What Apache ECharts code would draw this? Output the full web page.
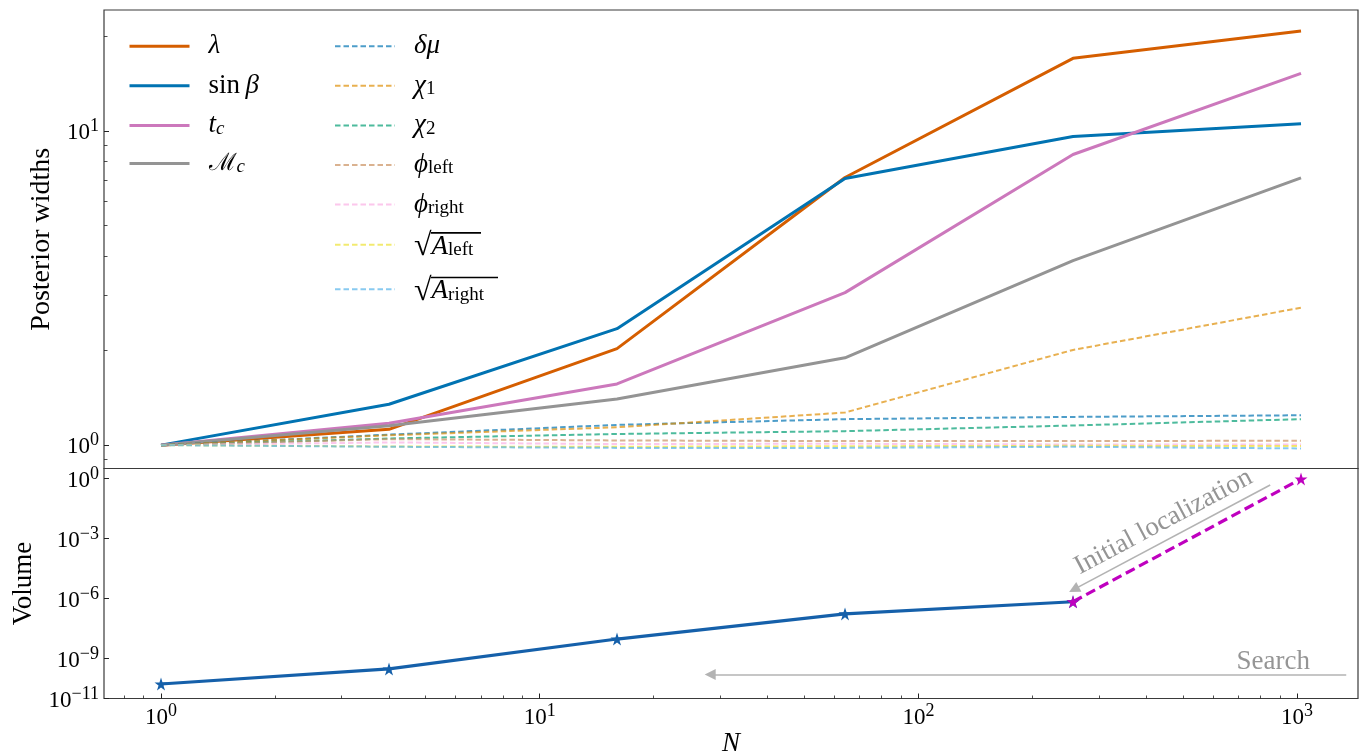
<!DOCTYPE html>
<html><head><meta charset="utf-8">
<script src="https://cdn.jsdelivr.net/npm/echarts@6.0.0/dist/echarts.min.js"></script>
<style>html,body{margin:0;padding:0;background:#fff}#c{width:1366px;height:751px}</style>
</head><body><div id="c"></div>
<script>
// ---------- data ----------
const N = [1, 4, 16, 64, 256, 1024];
const lambdaW = [1, 1.123, 2.03, 7.12, 17.06, 20.85];
const sinBetaW = [1, 1.35, 2.35, 7.07, 9.62, 10.56];
const tcW = [1, 1.174, 1.566, 3.06, 8.43, 15.28];
const McW = [1, 1.153, 1.403, 1.897, 3.87, 7.10];
const dmuW = [1, 1.08, 1.16, 1.21, 1.23, 1.245];
const chi1W = [1, 1.075, 1.14, 1.27, 2.01, 2.74];
const chi2W = [1, 1.05, 1.085, 1.108, 1.155, 1.21];
const phiLeftW = [1, 1.045, 1.035, 1.03, 1.03, 1.033];
const phiRightW = [1, 1.02, 1.008, 1.01, 1.005, 1.005];
const ALeftW = [1, 0.99, 0.988, 0.992, 0.995, 0.993];
const ARightW = [1, 0.988, 0.98, 0.98, 0.988, 0.976];

const searchN = [1, 4, 16, 64, 256];
const searchVol = [5.3e-11, 3.0e-10, 9.4e-9, 1.7e-7, 6.9e-7];
const locN = [256, 1024];
const locVol = [6.9e-7, 0.95];

const xMajorTicks = [1, 10, 100, 1000];
const xMinorTicks = [0.8, 0.9, 2, 3, 4, 5, 6, 7, 8, 9, 20, 30, 40, 50, 60, 70, 80, 90, 200, 300, 400, 500, 600, 700, 800, 900];
const topYMajorTicks = [1, 10];
const topYMinorTicks = [0.9, 2, 3, 4, 5, 6, 7, 8, 9, 20];
const volYTicks = [1e-11, 1e-9, 1e-6, 1e-3, 1];

// annotation anchors (data space)
const initArrow = [[849, 0.47], [257.5, 2.85e-6]];
const searchArrow = [[1348, 1.58e-10], [28.2, 1.58e-10]];
const initText = [443.6, 6.7e-3];
const searchText = [865, 6.7e-10];

// ---------- style ----------
const SERIF = 'Liberation Serif, DejaVu Serif, serif';
const X_MIN = 0.7071, X_MAX = 1448;
const TOP_MIN = 0.8425, TOP_MAX = 24.32;
const VOL_MIN = 1e-11, VOL_MAX = 3.1623;
const STAR = 'path://M50,0L61.2,34.5L97.6,34.5L68.2,55.9L79.4,90.5L50,69.1L20.6,90.5L31.8,55.9L2.4,34.5L38.8,34.5Z';

function powLabel(v) {
  const e = Math.round(Math.log10(v));
  const s = e < 0 ? '\u2212' + (-e) : '' + e;
  return '{b|10}{s|' + s + '}';
}
const tickRich = {
  b: {fontFamily: SERIF, fontSize: 23, lineHeight: 27, verticalAlign: 'bottom', color: '#000'},
  s: {fontFamily: SERIF, fontSize: 18, lineHeight: 16, verticalAlign: 'top', color: '#000'}
};
const TICKC = '#222';

function xy(xs, ys) { return xs.map((x, i) => [x, ys[i]]); }

const solid = [
  {name: 'lambda', data: lambdaW, color: '#d55e00'},
  {name: 'sinb', data: sinBetaW, color: '#0173b2'},
  {name: 'tc', data: tcW, color: '#cc78bc'},
  {name: 'Mc', data: McW, color: '#949494'}
];
const dashed = [
  {name: 'dmu', data: dmuW, color: 'rgba(1,115,178,0.7)'},
  {name: 'chi1', data: chi1W, color: 'rgba(222,143,5,0.7)'},
  {name: 'chi2', data: chi2W, color: 'rgba(2,158,115,0.7)'},
  {name: 'phiL', data: phiLeftW, color: 'rgba(202,145,97,0.7)'},
  {name: 'phiR', data: phiRightW, color: 'rgba(251,175,228,0.7)'},
  {name: 'AL', data: ALeftW, color: 'rgba(236,225,51,0.7)'},
  {name: 'AR', data: ARightW, color: 'rgba(86,180,233,0.7)'}
];

const legendText = {
  lambda: '{it|λ}',
  sinb: '{rm|sin\u2009}{it|β}',
  tc: '{it|t}{subi|c}',
  Mc: '{cal|ℳ}{subi|c}',
  dmu: '{it|δμ}',
  chi1: '{it|χ}{sub|1}',
  chi2: '{it|χ}{sub|2}',
  phiL: '{it|ϕ}{sub|left}',
  phiR: '{it|ϕ}{sub|right}',
  AL: '{gap|\u00a0}{barL|\u00a0}\n{sq|√}{it|A}{sub|left}',
  AR: '{gap|\u00a0}{barR|\u00a0}\n{sq|√}{it|A}{sub|right}'
};
const legRich = {
  it: {fontFamily: SERIF, fontStyle: 'italic', fontSize: 27, lineHeight: 26, color: '#000'},
  rm: {fontFamily: SERIF, fontSize: 27, lineHeight: 26, color: '#000'},
  cal: {fontFamily: 'DejaVu Serif', fontSize: 24, lineHeight: 26, color: '#000'},
  sub: {fontFamily: SERIF, fontSize: 19, lineHeight: 18, verticalAlign: 'bottom', color: '#000'},
  subi: {fontFamily: SERIF, fontStyle: 'italic', fontSize: 19, lineHeight: 18, verticalAlign: 'bottom', color: '#000'},
  sq: {fontFamily: SERIF, fontSize: 32, lineHeight: 26, color: '#000'},
  gap: {width: 17, height: 2, lineHeight: 4, fontSize: 2},
  barL: {width: 50, height: 1.6, lineHeight: 4, fontSize: 2, backgroundColor: '#000', verticalAlign: 'bottom'},
  barR: {width: 67, height: 1.6, lineHeight: 4, fontSize: 2, backgroundColor: '#000', verticalAlign: 'bottom'}
};
function legendCfg(names, left, lw) {
  return {
    data: names, orient: 'vertical', left: left, top: 32.7, padding: 0,
    itemWidth: 60, itemHeight: 14, itemGap: 12.6, selectedMode: false,
    itemStyle: {opacity: 0, borderWidth: 0},
    lineStyle: {width: lw},
    formatter: n => legendText[n],
    textStyle: {padding: [0, 0, 0, 14], fontFamily: SERIF, fontSize: 27, color: '#000', rich: legRich}
  };
}

const series = [];
solid.forEach(s => series.push({
  name: s.name, type: 'line', xAxisIndex: 0, yAxisIndex: 0,
  data: xy(N, s.data), symbol: 'none', silent: true,
  lineStyle: {color: s.color, width: 3}, itemStyle: {color: s.color},
  emphasis: {disabled: true}
}));
dashed.forEach(s => series.push({
  name: s.name, type: 'line', xAxisIndex: 0, yAxisIndex: 0,
  data: xy(N, s.data), symbol: 'none', silent: true,
  lineStyle: {color: s.color, width: 2, type: [5.5, 3]}, itemStyle: {color: s.color},
  emphasis: {disabled: true}
}));
series.push({
  name: 'search', type: 'line', xAxisIndex: 1, yAxisIndex: 2,
  data: xy(searchN, searchVol), symbol: STAR, symbolSize: 13, showAllSymbol: true, silent: true,
  lineStyle: {color: '#1560aa', width: 3.2}, itemStyle: {color: '#1560aa'},
  emphasis: {disabled: true}
});
series.push({
  name: 'loc', type: 'line', xAxisIndex: 1, yAxisIndex: 2,
  data: xy(locN, locVol), symbol: STAR, symbolSize: 13, showAllSymbol: true, silent: true,
  lineStyle: {color: '#bf00bf', width: 3.2, type: [10, 5]}, itemStyle: {color: '#bf00bf'},
  emphasis: {disabled: true}
});
const annLabel = {fontFamily: SERIF, fontSize: 27, color: '#7a7a7a'};
series.push({
  name: 'ann', type: 'scatter', xAxisIndex: 1, yAxisIndex: 2, silent: true,
  symbolSize: 1, itemStyle: {color: 'rgba(0,0,0,0)'},
  data: [
    {value: initText, label: {show: true, position: 'inside', rotate: 28, formatter: 'Initial localization', ...annLabel}},
    {value: searchText, label: {show: true, position: 'inside', formatter: 'Search', ...annLabel}}
  ],
  labelLayout: {hideOverlap: false},
  markLine: {
    silent: true, symbol: ['none', 'triangle'], symbolSize: 11, animation: false,
    label: {show: false}, emphasis: {disabled: true},
    itemStyle: {color: '#b3b3b3'},
    lineStyle: {color: '#b3b3b3', width: 1.6, type: 'solid'},
    data: [
      [{coord: initArrow[0]}, {coord: initArrow[1]}],
      [{coord: searchArrow[0]}, {coord: searchArrow[1]}]
    ]
  }
});

const chart = echarts.init(document.getElementById('c'), null, {renderer: 'canvas'});
chart.setOption({
  animation: false,
  backgroundColor: '#fff',
  grid: [
    {left: 104, right: 8, top: 10, height: 458.5, show: true, borderColor: '#3a3a3a', borderWidth: 1.2, backgroundColor: 'transparent', outerBoundsMode: 'none', containLabel: false},
    {left: 104, right: 8, top: 468.5, height: 230, show: true, borderColor: '#3a3a3a', borderWidth: 1.2, backgroundColor: 'transparent', outerBoundsMode: 'none', containLabel: false}
  ],
  legend: [
    legendCfg(['lambda', 'sinb', 'tc', 'Mc'], 128, 3),
    legendCfg(['dmu', 'chi1', 'chi2', 'phiL', 'phiR', 'AL', 'AR'], 334, 2)
  ],
  xAxis: [
    {type: 'log', gridIndex: 0, position: 'bottom', min: X_MIN, max: X_MAX, axisLine: {show: false}, axisTick: {show: false}, axisLabel: {show: false}, splitLine: {show: false}},
    {type: 'log', gridIndex: 1, position: 'bottom', min: X_MIN, max: X_MAX, axisLine: {show: false}, splitLine: {show: false},
     axisTick: {show: true, inside: true, length: 5, customValues: xMajorTicks, lineStyle: {color: TICKC, width: 1}},
     axisLabel: {show: true, margin: 4, customValues: xMajorTicks, formatter: powLabel, rich: tickRich},
     name: 'N', nameLocation: 'middle', nameGap: 25,
     nameTextStyle: {fontFamily: SERIF, fontStyle: 'italic', fontSize: 27, color: '#000', verticalAlign: 'top'}},
    {type: 'log', gridIndex: 1, position: 'bottom', min: X_MIN, max: X_MAX, axisLine: {show: false}, splitLine: {show: false}, axisLabel: {show: false},
     axisTick: {show: true, inside: true, length: 3, customValues: xMinorTicks, lineStyle: {color: TICKC, width: 0.8}}}
  ],
  yAxis: [
    {type: 'log', gridIndex: 0, position: 'left', min: TOP_MIN, max: TOP_MAX, axisLine: {show: false}, splitLine: {show: false},
     axisTick: {show: true, inside: true, length: 5, customValues: topYMajorTicks, lineStyle: {color: TICKC, width: 1}},
     axisLabel: {show: true, margin: 5, customValues: topYMajorTicks, formatter: powLabel, rich: tickRich},
     name: 'Posterior widths', nameLocation: 'middle', nameGap: 42,
     nameTextStyle: {fontFamily: SERIF, fontSize: 28, color: '#000'}},
    {type: 'log', gridIndex: 0, position: 'left', min: TOP_MIN, max: TOP_MAX, axisLine: {show: false}, splitLine: {show: false}, axisLabel: {show: false},
     axisTick: {show: true, inside: true, length: 3.5, customValues: topYMinorTicks, lineStyle: {color: TICKC, width: 0.8}}},
    {type: 'log', gridIndex: 1, position: 'left', min: VOL_MIN, max: VOL_MAX, axisLine: {show: false}, splitLine: {show: false},
     axisTick: {show: true, inside: true, length: 5, customValues: volYTicks, lineStyle: {color: TICKC, width: 1}},
     axisLabel: {show: true, margin: 5, customValues: volYTicks, formatter: powLabel, rich: tickRich, showMinLabel: true, showMaxLabel: true},
     name: 'Volume', nameLocation: 'middle', nameGap: 66,
     nameTextStyle: {fontFamily: SERIF, fontSize: 27, color: '#000'}}
  ],
  series: series
});
</script>
</body></html>
